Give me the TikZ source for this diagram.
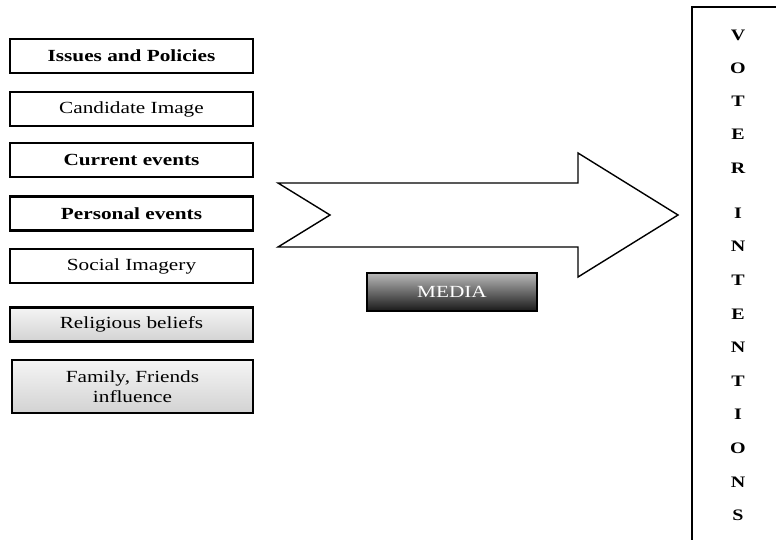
\documentclass[tikz,border=0pt]{standalone}
\usepackage{fontspec}
\setmainfont[FakeStretch=1.25]{Liberation Serif}
\begin{document}
\begin{tikzpicture}[x=1pt,y=-1pt,
  factor/.style={draw=black, line width=2.6pt, fill=white, minimum width=243pt,
    minimum height=34pt, inner sep=0pt, font=\fontsize{17}{20}\selectfont, align=center},
  greyfactor/.style={factor, top color=gray!8, bottom color=gray!35},
  mediabox/.style={draw=black, line width=2pt, top color=gray!55, bottom color=black!90,
    minimum width=170pt, minimum height=38pt, inner sep=0pt, text=white,
    font=\fontsize{17}{18}\selectfont},
  letter/.style={font=\fontsize{16}{16}\selectfont\bfseries, inner sep=0pt},
  bigarrow/.style={draw=black, line width=1.4pt, fill=white, line join=miter}]
\clip (0,0) rectangle (776,539);
\fill[white] (0,0) rectangle (776,539);

\node[factor] (issues) at (131.5,56) {\bfseries Issues and Policies};
\node[factor] (cand) at (131.5,109) {Candidate Image};
\node[factor] (current) at (131.5,160) {\bfseries Current events};
\node[factor] (personal) at (131.5,213.5) {\bfseries Personal events};
\node[factor] (social) at (131.5,266) {Social Imagery};
\node[greyfactor] (relig) at (131.5,324.5) {Religious beliefs};
\node[greyfactor, minimum width=241pt, minimum height=53pt] (family) at (132.5,386.5) {Family, Friends\\influence};

\draw[bigarrow] (278,183) -- (578,183) -- (578,153) -- (678,215) -- (578,277)
  -- (578,247) -- (278,247) -- (330,215) -- cycle;

\node[mediabox] (media) at (452,292) {MEDIA};

\draw[line width=2.6pt] (800,7) -- (692,7) -- (692,560);

\foreach \l/\y [count=\i] in {V/35,O/68,T/101,E/134,R/168,I/213,N/246,T/280,E/314,N/347,T/381,I/414,O/448,N/482,S/515}
  \node[letter] (v\i) at (738,\y) {\l};
\end{tikzpicture}
\end{document}
